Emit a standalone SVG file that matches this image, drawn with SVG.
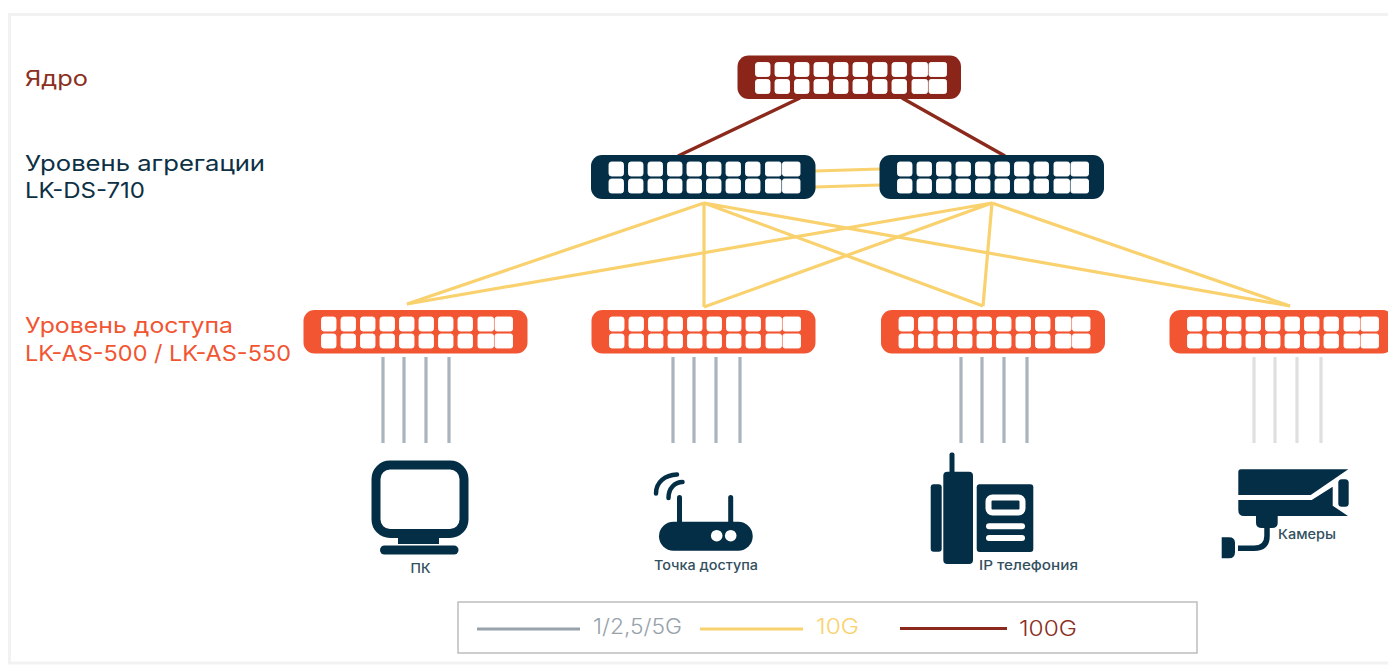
<svg xmlns="http://www.w3.org/2000/svg" xmlns:xlink="http://www.w3.org/1999/xlink" width="1388" height="666" viewBox="0 0 1388 666">
<style>
text{font-family:"Inter","Liberation Sans",sans-serif}
.h{font-size:22px}
.s{font-size:13px;fill:#33505f;font-weight:500}
.l{font-size:21px;font-weight:300}
.p{fill:#fff;stroke:#fff;stroke-width:.9}
.dark{fill:#032e45}
.w{fill:#fff}
.brown{stroke:#8b2a1c;stroke-width:3.4;fill:none}
.yellow{stroke:#f9d26f;stroke-width:3.2;fill:none}
.gray{stroke:#aab4bc;stroke-width:3.2;fill:none}
.pale{stroke:#dfdfdf;stroke-width:3.2;fill:none}
</style>
<defs>
<g id="ports">
<rect class="p" x="18" y="7" width="14.5" height="14" rx="2.5"/><rect class="p" x="37.5" y="7" width="14.5" height="14" rx="2.5"/><rect class="p" x="57" y="7" width="14.5" height="14" rx="2.5"/><rect class="p" x="76.5" y="7" width="14.5" height="14" rx="2.5"/><rect class="p" x="96" y="7" width="14.5" height="14" rx="2.5"/><rect class="p" x="115.5" y="7" width="14.5" height="14" rx="2.5"/><rect class="p" x="135" y="7" width="14.5" height="14" rx="2.5"/><rect class="p" x="154.5" y="7" width="14.5" height="14" rx="2.5"/><rect class="p" x="174.5" y="7" width="15.5" height="14" rx="2"/><rect class="p" x="191.5" y="7" width="17.5" height="14" rx="2"/>
<rect class="p" x="18" y="24" width="14.5" height="14" rx="2.5"/><rect class="p" x="37.5" y="24" width="14.5" height="14" rx="2.5"/><rect class="p" x="57" y="24" width="14.5" height="14" rx="2.5"/><rect class="p" x="76.5" y="24" width="14.5" height="14" rx="2.5"/><rect class="p" x="96" y="24" width="14.5" height="14" rx="2.5"/><rect class="p" x="115.5" y="24" width="14.5" height="14" rx="2.5"/><rect class="p" x="135" y="24" width="14.5" height="14" rx="2.5"/><rect class="p" x="154.5" y="24" width="14.5" height="14" rx="2.5"/><rect class="p" x="174.5" y="24" width="15.5" height="14" rx="2"/><rect class="p" x="191.5" y="24" width="17.5" height="14" rx="2"/>
</g>
</defs>
<rect width="1388" height="666" fill="#fff"/>
<rect x="9.5" y="14.5" width="1390" height="648.5" fill="none" stroke="#f2f2f2" stroke-width="3"/>

<g id="connectors">
<path class="brown" d="M800 98L678 156M902 98L1005 156"/>
<path class="yellow" d="M815 171L880 169M815 187L880 185"/>
<path class="yellow" d="M704 203L407 304M704 203L704 307M704 203L983 306M704 203L1290 306"/>
<path class="yellow" d="M992 203L407 304M992 203L704 307M992 203L983 306M992 203L1290 306"/>
<path class="gray" d="M383 357V443M404 357V443M426 357V443M449 357V443M673 357V443M694 357V443M716 357V443M740 357V443M961 357V443M982 357V443M1004 357V443M1027 357V443"/>
<path class="pale" d="M1254 357V443M1275 357V443M1297 357V443M1321 357V443"/>
</g>

<g id="core"><rect x="737.5" y="55.5" width="223.5" height="43.5" rx="11" fill="#8b2419"/><use href="#ports" x="737.5" y="55.5"/></g>
<g id="agg1"><rect x="591" y="155" width="224.5" height="44" rx="11" fill="#032e45"/><use href="#ports" x="591" y="155"/></g>
<g id="agg2"><rect x="879.5" y="155" width="224.5" height="44" rx="11" fill="#032e45"/><use href="#ports" x="879.5" y="155"/></g>
<g id="access1"><rect x="303.5" y="310" width="224" height="43.5" rx="11" fill="#f15532"/><use href="#ports" x="303.5" y="310"/></g>
<g id="access2"><rect x="591.5" y="310" width="224" height="43.5" rx="11" fill="#f15532"/><use href="#ports" x="591.5" y="310"/></g>
<g id="access3"><rect x="881" y="310" width="224" height="43.5" rx="11" fill="#f15532"/><use href="#ports" x="881" y="310"/></g>
<g id="access4"><rect x="1169.5" y="310" width="224" height="43.5" rx="11" fill="#f15532"/><use href="#ports" x="1169.5" y="310"/></g>

<g id="label-core"><text class="h" x="25" y="86" fill="#8b2f1f" textLength="63" lengthAdjust="spacingAndGlyphs">Ядро</text></g>
<g id="label-agg"><text class="h" x="25" y="171" fill="#0d3045" textLength="240" lengthAdjust="spacingAndGlyphs">Уровень агрегации</text><text class="h" x="25" y="198" fill="#0d3045" textLength="120" lengthAdjust="spacingAndGlyphs">LK-DS-710</text></g>
<g id="label-access"><text class="h" x="25" y="333" fill="#f15532" textLength="208" lengthAdjust="spacingAndGlyphs">Уровень доступа</text><text class="h" x="25" y="361" fill="#f15532" textLength="266" lengthAdjust="spacingAndGlyphs">LK-AS-500 / LK-AS-550</text></g>

<g id="pc">
<rect x="376" y="465" width="88" height="68.5" rx="14" fill="none" stroke="#032e45" stroke-width="9"/>
<rect class="dark" x="398" y="537" width="41" height="7"/>
<rect class="dark" x="380" y="545.5" width="78.5" height="9" rx="4.5"/>
<text class="s" x="410.5" y="573" textLength="20" lengthAdjust="spacingAndGlyphs">ПК</text>
</g>

<g id="ap">
<rect class="dark" x="659" y="521.7" width="93.7" height="29" rx="14.5"/>
<rect class="dark" x="677" y="495" width="5" height="30" rx="2.5"/>
<rect class="dark" x="728.2" y="495" width="5" height="30" rx="2.5"/>
<circle class="w" cx="716.7" cy="535.7" r="5.8"/><circle class="w" cx="730.7" cy="535.7" r="5.8"/>
<path d="M677 474.5C665 475 656 482 656 493.5M682.5 482C675 482 668.5 488 668.5 498" fill="none" stroke="#032e45" stroke-width="4.5" stroke-linecap="round"/>
<text class="s" x="654" y="570" textLength="104" lengthAdjust="spacingAndGlyphs">Точка доступа</text>
</g>

<g id="phone">
<rect class="dark" x="949.5" y="452.5" width="5" height="22" rx="2"/>
<rect class="dark" x="943.3" y="471.7" width="29.7" height="92.3" rx="4"/>
<rect class="dark" x="930.7" y="484.3" width="11" height="67.5" rx="3"/>
<rect class="dark" x="976.7" y="484.3" width="56.6" height="67.7" rx="3"/>
<rect x="988.5" y="497.5" width="34" height="15" rx="4" fill="none" stroke="#fff" stroke-width="6"/>
<rect class="w" x="986" y="523.3" width="39" height="6" rx="3"/>
<rect class="w" x="986" y="535" width="39" height="6" rx="3"/>
<text class="s" x="979" y="570" textLength="99" lengthAdjust="spacingAndGlyphs">IP телефония</text>
</g>

<g id="camera">
<path class="dark" d="M1241 469.3H1348.3L1310.7 495H1238.3V472Q1238.3 469.3 1241 469.3Z"/>
<path class="dark" d="M1238.3 500H1311.7L1332.7 486.7V505.7L1348 516H1244Q1238.3 516 1238.3 510Z"/>
<rect class="dark" x="1338.3" y="479.3" width="10.4" height="27.4" rx="3.5"/>
<path class="dark" d="M1256 515H1277.7V523Q1277.7 528 1272 528H1262Q1256 528 1256 523Z"/>
<path d="M1267 526V536Q1267 548.3 1254 548.3H1238" fill="none" stroke="#032e45" stroke-width="5.5"/>
<path class="dark" d="M1221.7 537.3H1229Q1235 537.3 1235 543V552Q1235 558.3 1229 558.3H1221.7Z"/>
<text class="s" x="1278" y="539" textLength="58" lengthAdjust="spacingAndGlyphs">Камеры</text>
</g>

<g id="legend">
<rect x="458" y="602" width="739" height="51" fill="#fff" stroke="#bdbdbd" stroke-width="1.5"/>
<path d="M477 629H580" stroke="#98a2ab" stroke-width="3.2" fill="none"/>
<path d="M700 629H803" stroke="#f9d26f" stroke-width="3.2" fill="none"/>
<path d="M900 628.5H1007" stroke="#8b2a1c" stroke-width="3.2" fill="none"/>
<text class="l" x="593" y="634" fill="#98a2ab" textLength="89" lengthAdjust="spacingAndGlyphs">1/2,5/5G</text>
<text class="l" x="816" y="634" fill="#f9d26f" textLength="43" lengthAdjust="spacingAndGlyphs">10G</text>
<text class="l" x="1019" y="636" fill="#8b2f1f" textLength="58" lengthAdjust="spacingAndGlyphs">100G</text>
</g>
</svg>
